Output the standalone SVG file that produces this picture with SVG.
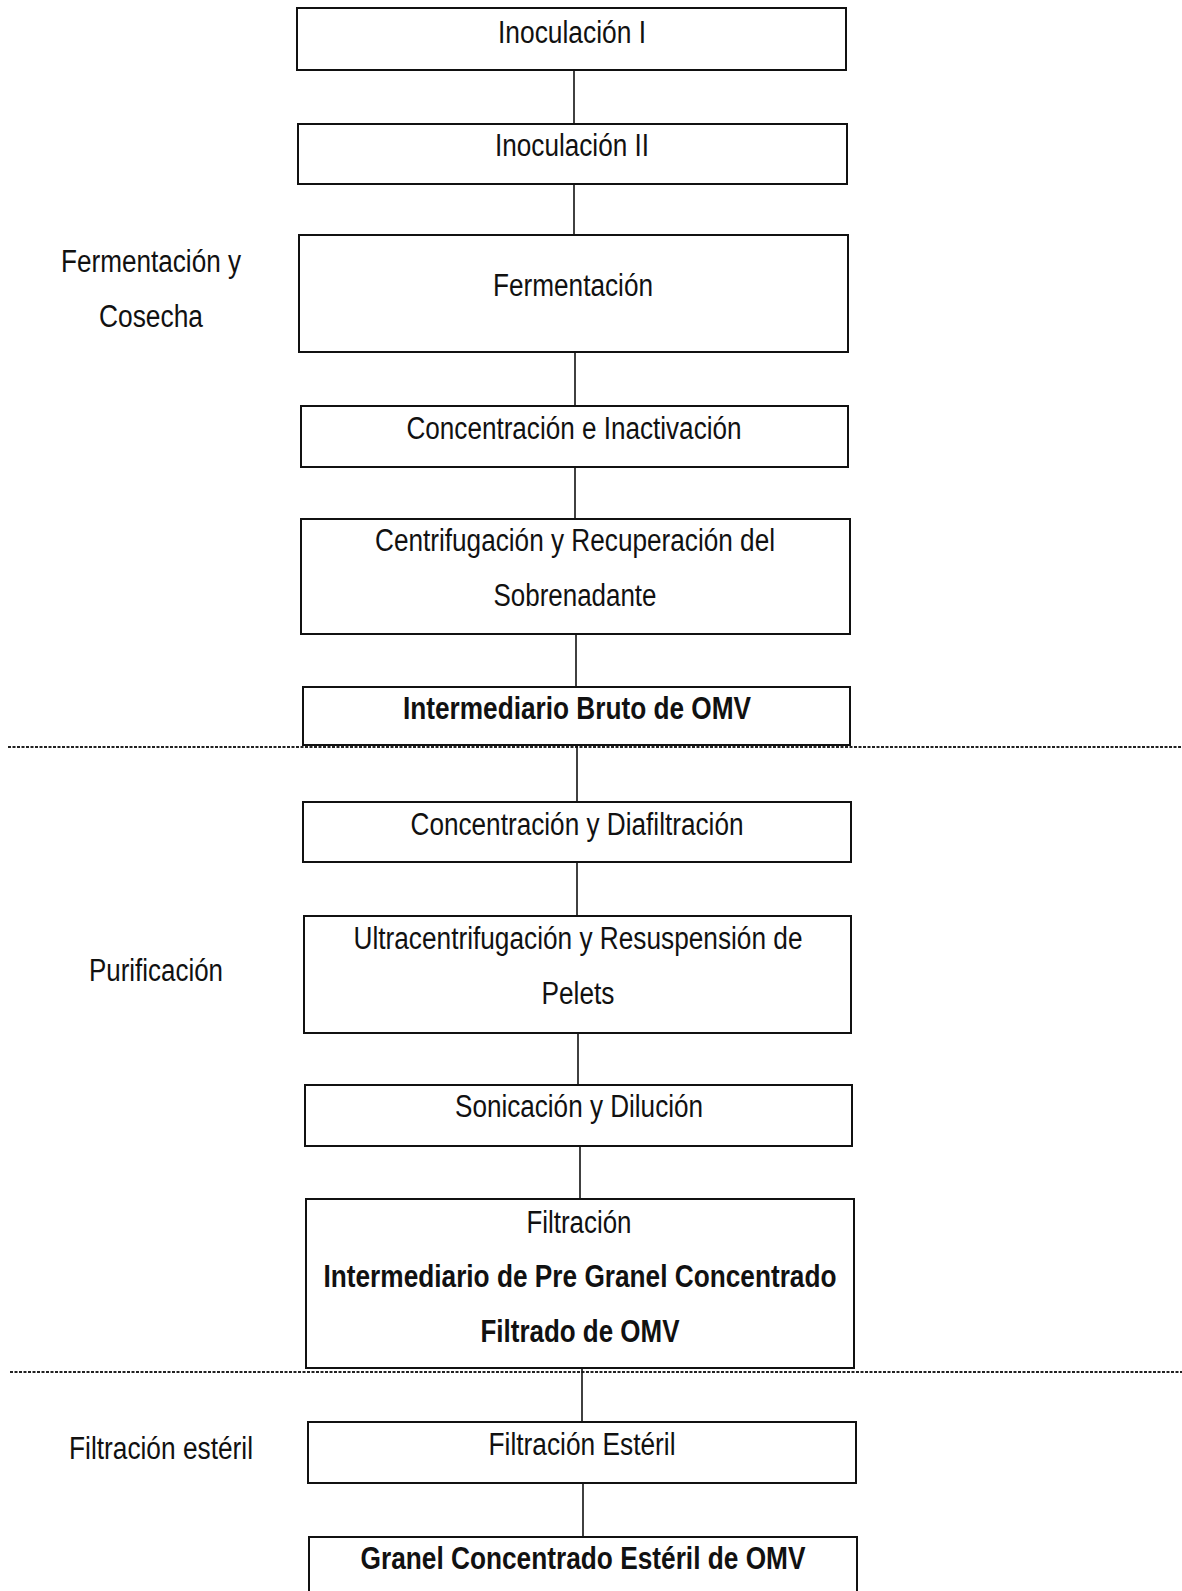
<svg xmlns="http://www.w3.org/2000/svg" width="1182" height="1591" viewBox="0 0 1182 1591">
<style>
.box{fill:#fff;stroke:#111;stroke-width:2}
.t{font-family:"Liberation Sans Narrow","Liberation Sans",Arial,sans-serif;font-size:31px;fill:#111;text-anchor:middle}
.b{font-weight:bold}
.s{font-family:"Liberation Sans Narrow","Liberation Sans",Arial,sans-serif;font-size:31px;fill:#111}
.c{stroke:#111;stroke-width:1.6;fill:none}
.d{stroke:#222;stroke-width:2;stroke-dasharray:3 1.5;fill:none}
</style>
<rect width="1182" height="1591" fill="#fff"/>
<g id="dividers">
<line class="d" x1="8" y1="747" x2="1182" y2="747"/>
<line class="d" x1="10" y1="1372" x2="1182" y2="1372"/>
</g>
<g id="connectors">
<line class="c" x1="574" y1="70" x2="574" y2="124"/>
<line class="c" x1="574" y1="184" x2="574" y2="235"/>
<line class="c" x1="575" y1="352" x2="575" y2="406"/>
<line class="c" x1="575" y1="467" x2="575" y2="519"/>
<line class="c" x1="576" y1="634" x2="576" y2="687"/>
<line class="c" x1="577" y1="745" x2="577" y2="802"/>
<line class="c" x1="577" y1="862" x2="577" y2="916"/>
<line class="c" x1="578" y1="1033" x2="578" y2="1085"/>
<line class="c" x1="580" y1="1146" x2="580" y2="1199"/>
<line class="c" x1="582" y1="1368" x2="582" y2="1422"/>
<line class="c" x1="583" y1="1483" x2="583" y2="1537"/>
</g>
<g id="labels">
<text class="s" x="61" y="272" textLength="180" lengthAdjust="spacingAndGlyphs">Fermentación y</text>
<text class="s" x="99" y="327" textLength="104" lengthAdjust="spacingAndGlyphs">Cosecha</text>
<text class="s" x="89" y="981" textLength="134" lengthAdjust="spacingAndGlyphs">Purificación</text>
<text class="s" x="69" y="1459" textLength="184" lengthAdjust="spacingAndGlyphs">Filtración estéril</text>
</g>
<g id="n1"><rect class="box" x="297" y="8" width="549" height="62"/>
<text class="t" x="572" y="43" textLength="148" lengthAdjust="spacingAndGlyphs">Inoculación I</text></g>
<g id="n2"><rect class="box" x="298" y="124" width="549" height="60"/>
<text class="t" x="572" y="156" textLength="154" lengthAdjust="spacingAndGlyphs">Inoculación II</text></g>
<g id="n3"><rect class="box" x="299" y="235" width="549" height="117"/>
<text class="t" x="573" y="296" textLength="160" lengthAdjust="spacingAndGlyphs">Fermentación</text></g>
<g id="n4"><rect class="box" x="301" y="406" width="547" height="61"/>
<text class="t" x="574" y="439" textLength="335" lengthAdjust="spacingAndGlyphs">Concentración e Inactivación</text></g>
<g id="n5"><rect class="box" x="301" y="519" width="549" height="115"/>
<text class="t" x="575" y="551" textLength="400" lengthAdjust="spacingAndGlyphs">Centrifugación y Recuperación del</text>
<text class="t" x="575" y="606" textLength="163" lengthAdjust="spacingAndGlyphs">Sobrenadante</text></g>
<g id="n6"><rect class="box" x="303" y="687" width="547" height="58"/>
<text class="t b" x="577" y="719" textLength="348" lengthAdjust="spacingAndGlyphs">Intermediario Bruto de OMV</text></g>
<g id="n7"><rect class="box" x="303" y="802" width="548" height="60"/>
<text class="t" x="577" y="835" textLength="333" lengthAdjust="spacingAndGlyphs">Concentración y Diafiltración</text></g>
<g id="n8"><rect class="box" x="304" y="916" width="547" height="117"/>
<text class="t" x="578" y="949" textLength="449" lengthAdjust="spacingAndGlyphs">Ultracentrifugación y Resuspensión de</text>
<text class="t" x="578" y="1004" textLength="73" lengthAdjust="spacingAndGlyphs">Pelets</text></g>
<g id="n9"><rect class="box" x="305" y="1085" width="547" height="61"/>
<text class="t" x="579" y="1117" textLength="248" lengthAdjust="spacingAndGlyphs">Sonicación y Dilución</text></g>
<g id="n10"><rect class="box" x="306" y="1199" width="548" height="169"/>
<text class="t" x="579" y="1233" textLength="105" lengthAdjust="spacingAndGlyphs">Filtración</text>
<text class="t b" x="580" y="1287" textLength="513" lengthAdjust="spacingAndGlyphs">Intermediario de Pre Granel Concentrado</text>
<text class="t b" x="580" y="1342" textLength="199" lengthAdjust="spacingAndGlyphs">Filtrado de OMV</text></g>
<g id="n11"><rect class="box" x="308" y="1422" width="548" height="61"/>
<text class="t" x="582" y="1455" textLength="187" lengthAdjust="spacingAndGlyphs">Filtración Estéril</text></g>
<g id="n12"><rect class="box" x="309" y="1537" width="548" height="70"/>
<text class="t b" x="583" y="1569" textLength="445" lengthAdjust="spacingAndGlyphs">Granel Concentrado Estéril de OMV</text></g>
</svg>
